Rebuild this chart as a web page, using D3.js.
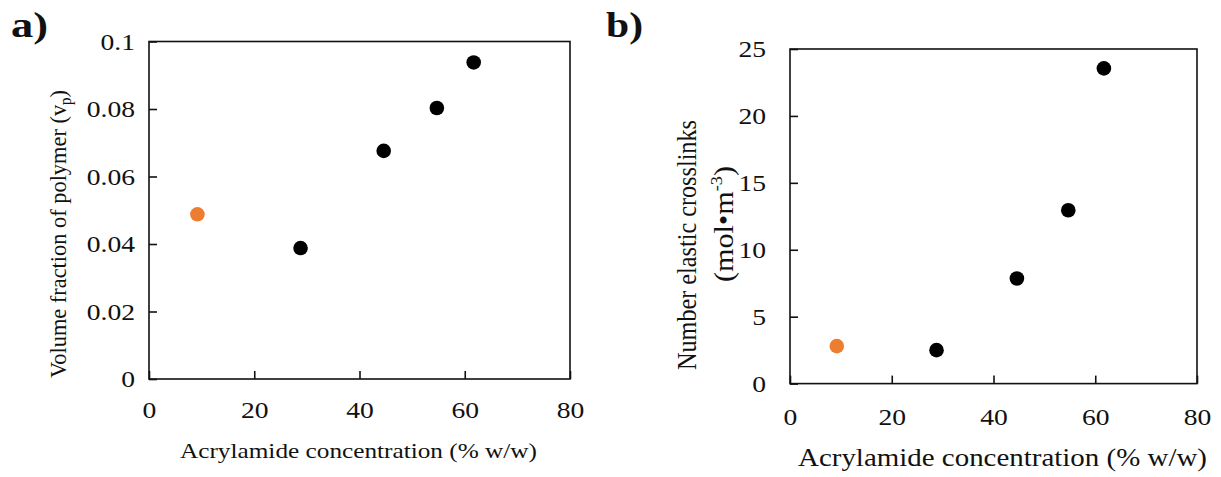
<!DOCTYPE html>
<html>
<head>
<meta charset="utf-8">
<script src="https://cdn.jsdelivr.net/npm/d3@7"></script>
<style>
  body { margin: 0; background: #fff; }
  svg { display: block; font-family: "Liberation Serif", "Times New Roman", serif; }
</style>
</head>
<body>
<div id="chart"></div>
<script>
// data
var concentration = [9.2, 28.8, 44.6, 54.7, 61.7];
var volumeFraction = [0.0488, 0.0388, 0.0676, 0.0803, 0.0938];
var crosslinks = [2.8, 2.5, 7.85, 12.95, 23.55];
var pointColors = ["#ED7D31", "#000", "#000", "#000", "#000"];
var xTicks = [0, 20, 40, 60, 80];
var yTicksA = [0, 0.02, 0.04, 0.06, 0.08, 0.1];
var yTicksB = [0, 5, 10, 15, 20, 25];

var width = 1221, height = 477;
var stretch = 1.15; // the original figure text is a bit wide

var svg = d3.select("#chart").append("svg")
    .attr("width", width)
    .attr("height", height);

function panel(opts) {
    var x = d3.scaleLinear().domain([0, 80]).range([opts.left, opts.right]);
    var y = d3.scaleLinear().domain(opts.yDomain).range([opts.bottom, opts.top]);

    var g = svg.append("g");

    // frame
    g.append("rect")
        .attr("x", opts.left).attr("y", opts.top)
        .attr("width", opts.right - opts.left)
        .attr("height", opts.bottom - opts.top)
        .attr("fill", "none")
        .attr("stroke", "#111")
        .attr("stroke-width", 1.6);

    var xAxis = g.append("g")
        .attr("transform", "translate(0," + opts.bottom + ")")
        .call(d3.axisBottom(x).tickValues(xTicks).tickSizeInner(-8).tickSizeOuter(0).tickPadding(opts.xPad).tickFormat(d3.format("d")));

    var yAxis = g.append("g")
        .attr("transform", "translate(" + opts.left + ",0)")
        .call(d3.axisLeft(y).tickValues(opts.yTicks).tickSizeInner(-8).tickSizeOuter(0).tickPadding(opts.yPad).tickFormat(opts.yFormat));

    [xAxis, yAxis].forEach(function (ax) {
        ax.select(".domain").remove();
        ax.selectAll("line").attr("stroke", "#111").attr("stroke-width", 1.6);
        ax.selectAll("text")
            .attr("font-family", "Liberation Serif")
            .attr("font-size", opts.tickFont)
            .attr("fill", "#111")
            .attr("transform", "scale(" + stretch + ",1)");
    });
    // keep left labels anchored near the axis after the stretch
    yAxis.selectAll("text").attr("x", -opts.yPad / stretch);
    xAxis.selectAll("text").attr("x", 0);

    // points
    g.selectAll("circle.pt")
        .data(concentration)
        .join("circle")
        .attr("class", "pt")
        .attr("cx", d => x(d))
        .attr("cy", (d, i) => y(opts.values[i]))
        .attr("r", 7.3)
        .attr("fill", (d, i) => pointColors[i]);

    // x title
    g.append("text")
        .attr("x", opts.xTitle.x)
        .attr("y", opts.xTitle.y)
        .attr("font-size", opts.xTitle.size)
        .attr("fill", "#111")
        .attr("textLength", opts.xTitle.len)
        .attr("lengthAdjust", "spacingAndGlyphs")
        .text("Acrylamide  concentration  (% w/w)");

    // panel letter
    svg.append("text")
        .attr("x", opts.letter.x)
        .attr("y", opts.letter.y)
        .attr("font-size", 35)
        .attr("font-weight", "bold")
        .attr("fill", "#111")
        .attr("textLength", opts.letter.len)
        .attr("lengthAdjust", "spacingAndGlyphs")
        .text(opts.letter.text);

    return g;
}

var ga = panel({
    left: 149, right: 570, top: 41.5, bottom: 379,
    yDomain: [0, 0.1], yTicks: yTicksA, values: volumeFraction,
    yFormat: d => d === 0 ? "0" : d3.format("")(+d.toFixed(2)),
    tickFont: 24, xPad: 22, yPad: 14,
    xTitle: { x: 180, y: 458, size: 22, len: 357 },
    letter: { x: 11, y: 37, len: 37, text: "a)" }
});

var gb = panel({
    left: 790, right: 1197, top: 49, bottom: 383.6,
    yDomain: [0, 25], yTicks: yTicksB, values: crosslinks,
    yFormat: d3.format("d"),
    tickFont: 24, xPad: 24, yPad: 24,
    xTitle: { x: 798, y: 466, size: 25, len: 409 },
    letter: { x: 606, y: 37, len: 37, text: "b)" }
});

// y titles
var ta = ga.append("text")
    .attr("transform", "translate(66,234) rotate(-90)")
    .attr("text-anchor", "middle")
    .attr("font-size", 24)
    .attr("fill", "#111")
    .attr("textLength", 288)
    .attr("lengthAdjust", "spacingAndGlyphs");
ta.append("tspan").text("Volume fraction of polymer (v");
ta.append("tspan").attr("font-size", 16).attr("dy", 5).text("p");
ta.append("tspan").attr("dy", -5).text(")");

gb.append("text")
    .attr("transform", "translate(696,245) rotate(-90)")
    .attr("text-anchor", "middle")
    .attr("font-size", 27)
    .attr("fill", "#111")
    .attr("textLength", 250)
    .attr("lengthAdjust", "spacingAndGlyphs")
    .text("Number elastic crosslinks");

var tb = gb.append("text")
    .attr("transform", "translate(733,224) rotate(-90)")
    .attr("text-anchor", "middle")
    .attr("font-size", 28)
    .attr("fill", "#111")
    .attr("textLength", 116)
    .attr("lengthAdjust", "spacingAndGlyphs");
tb.append("tspan").text("(mol\u2022m");
tb.append("tspan").attr("font-size", 17).attr("dy", -11).text("-3");
tb.append("tspan").attr("dy", 11).text(")");
</script>
</body>
</html>
